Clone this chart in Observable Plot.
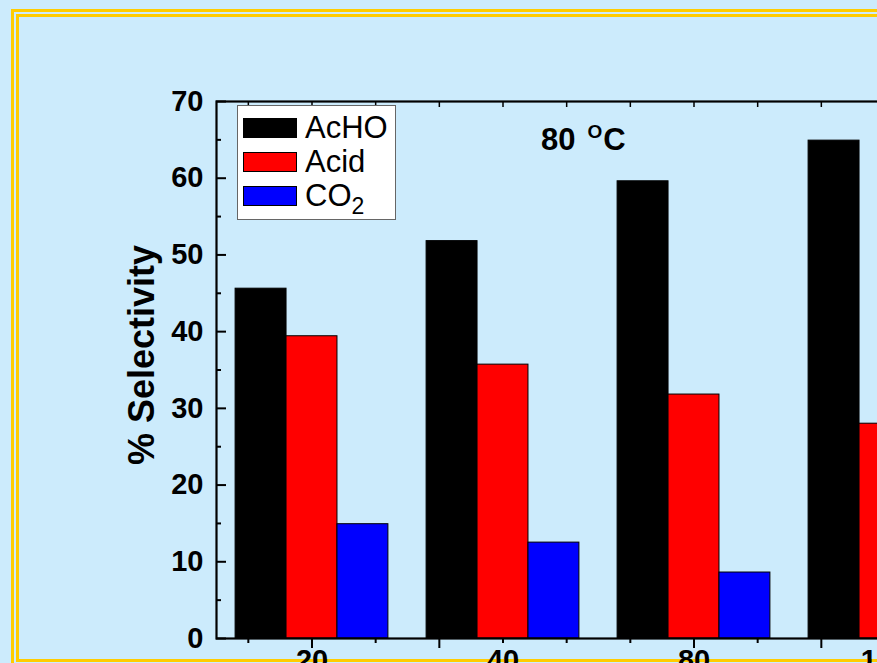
<!DOCTYPE html>
<html>
<head>
<meta charset="utf-8">
<script src="https://cdn.jsdelivr.net/npm/d3@7"></script>
<script src="https://cdn.jsdelivr.net/npm/@observablehq/plot@0.6"></script>
<style>
  html, body { margin: 0; padding: 0; }
  body { width: 877px; height: 663px; overflow: hidden; background: #CCEBFC; position: relative;
         font-family: "Liberation Sans", Arial, sans-serif; }
  #outer { position: absolute; left: 11px; top: 9px; width: 1000px; height: 1000px; border: 3px solid #FFCC00; box-sizing: border-box; }
  #inner { position: absolute; left: 16px; top: 14px; width: 990px; height: 648px; border: 3px solid #FFCC00; box-sizing: border-box; }
  #chart { position: absolute; left: 0; top: 0; width: 1020px; height: 700px; }
  #chart svg { max-width: none !important; }
  #ylabel { position: absolute; left: 142px; top: 355px; transform: translate(-50%, -50%) rotate(-90deg);
            font-size: 36px; font-weight: bold; white-space: nowrap; color: #000; }
  #temp { position: absolute; left: 541px; top: 122px; font-size: 31px; font-weight: bold; white-space: nowrap; color: #000; }
  #temp sup { font-size: 19px; vertical-align: 0; position: relative; top: -12px; margin-left: 12px; margin-right: 1px; }
  #legend { position: absolute; left: 237px; top: 105px; width: 159px; height: 115px; background: #fff;
            border: 1px solid #666; box-sizing: border-box; }
  .item { position: absolute; left: 5px; height: 22px; display: flex; align-items: center; }
  .sw { width: 54px; height: 20px; box-sizing: border-box; border: 1px solid #000; }
  .lab { margin-left: 8px; font-size: 31px; line-height: 22px; color: #000; }
  .lab sub { font-size: 23px; vertical-align: -8px; line-height: 0; }
</style>
</head>
<body>
<div id="outer"></div>
<div id="inner"></div>
<div id="chart"></div>
<div id="ylabel">% Selectivity</div>
<div id="temp">80<sup>O</sup>C</div>
<div id="legend"></div>
<script>
// ---- data ----
const groups = ["20", "40", "80", "100"];
const series = ["AcHO", "Acid", "CO2"];
const seriesLabels = ["AcHO", "Acid", "CO<sub>2</sub>"];
const acho = [45.6, 51.8, 59.6, 64.9];
const acid = [39.4, 35.7, 31.8, 28.0];
const co2 = [14.9, 12.5, 8.6, 7.0];
const colors = ["#000000", "#FF0000", "#0000FF"];
const yMajorTicks = [0, 10, 20, 30, 40, 50, 60, 70];
const yMinorTicks = [5, 15, 25, 35, 45, 55, 65];

// ---- table ----
const values = [acho, acid, co2];
const barWidth = 0.8 / series.length;
const rows = [];
groups.forEach((g, gi) => {
  series.forEach((s, si) => {
    const x1 = (gi + 1) - 0.4 + si * barWidth;
    rows.push({group: g, series: s, value: values[si][gi], x1, x2: x1 + barWidth});
  });
});
const xTicks = d3.range(0, 3 * groups.length + 2).map(k => 0.5 + (k + 0.5) / 3).filter(v => v > 0.55 && v < 4.45);
const xMajor = xTicks.filter(v => Math.abs(((v - 1) * 3) % 2) < 0.01);
const xMinor = xTicks.filter(v => !xMajor.includes(v));

const axisFont = {fontSize: 29, fontWeight: "bold", fill: "#000"};

const chart = Plot.plot({
  width: 1020,
  height: 700,
  marginLeft: 216,
  marginTop: 101,
  marginBottom: 62,
  marginRight: 40,
  style: {background: "transparent", fontFamily: "Liberation Sans, Arial, sans-serif", color: "#000", maxWidth: "none"},
  x: {domain: [0.5, 4.5]},
  y: {domain: [0, 70]},
  color: {domain: series, range: colors},
  marks: [
    Plot.rect(rows, {x1: "x1", x2: "x2", y1: 0, y2: "value", fill: "series", stroke: "#000", strokeWidth: 1}),
    Plot.frame({stroke: "#000", strokeWidth: 2.2}),
    Plot.axisY({ticks: yMajorTicks, tickSize: 0, tickPadding: 13, label: null, ...axisFont}),
    Plot.axisY({ticks: yMajorTicks, tickSize: -10, tickFormat: () => "", label: null, strokeWidth: 2}),
    Plot.axisY({ticks: yMinorTicks, tickSize: -5, tickFormat: () => "", label: null, strokeWidth: 2}),
    Plot.axisX({ticks: [1, 2, 3, 4], tickSize: 0, tickPadding: 11, tickFormat: d => groups[d - 1], label: null, ...axisFont}),
    Plot.axisX({ticks: xMajor, tickSize: 10, tickFormat: () => "", label: null, strokeWidth: 2}),
    Plot.axisX({ticks: xMinor, tickSize: 5, tickFormat: () => "", label: null, strokeWidth: 2}),
    Plot.axisX({anchor: "top", ticks: xMajor, tickSize: -5, tickFormat: () => "", label: null, strokeWidth: 1.5}),
    Plot.axisX({anchor: "top", ticks: xMinor, tickSize: -5, tickFormat: () => "", label: null, strokeWidth: 1.5})
  ]
});
document.getElementById("chart").appendChild(chart);

// ---- legend ----
const legend = document.getElementById("legend");
series.forEach((s, i) => {
  const item = document.createElement("div");
  item.className = "item";
  item.style.top = (11 + i * 34) + "px";
  item.innerHTML = `<div class="sw" style="background:${colors[i]}"></div><div class="lab">${seriesLabels[i]}</div>`;
  legend.appendChild(item);
});
</script>
</body>
</html>
